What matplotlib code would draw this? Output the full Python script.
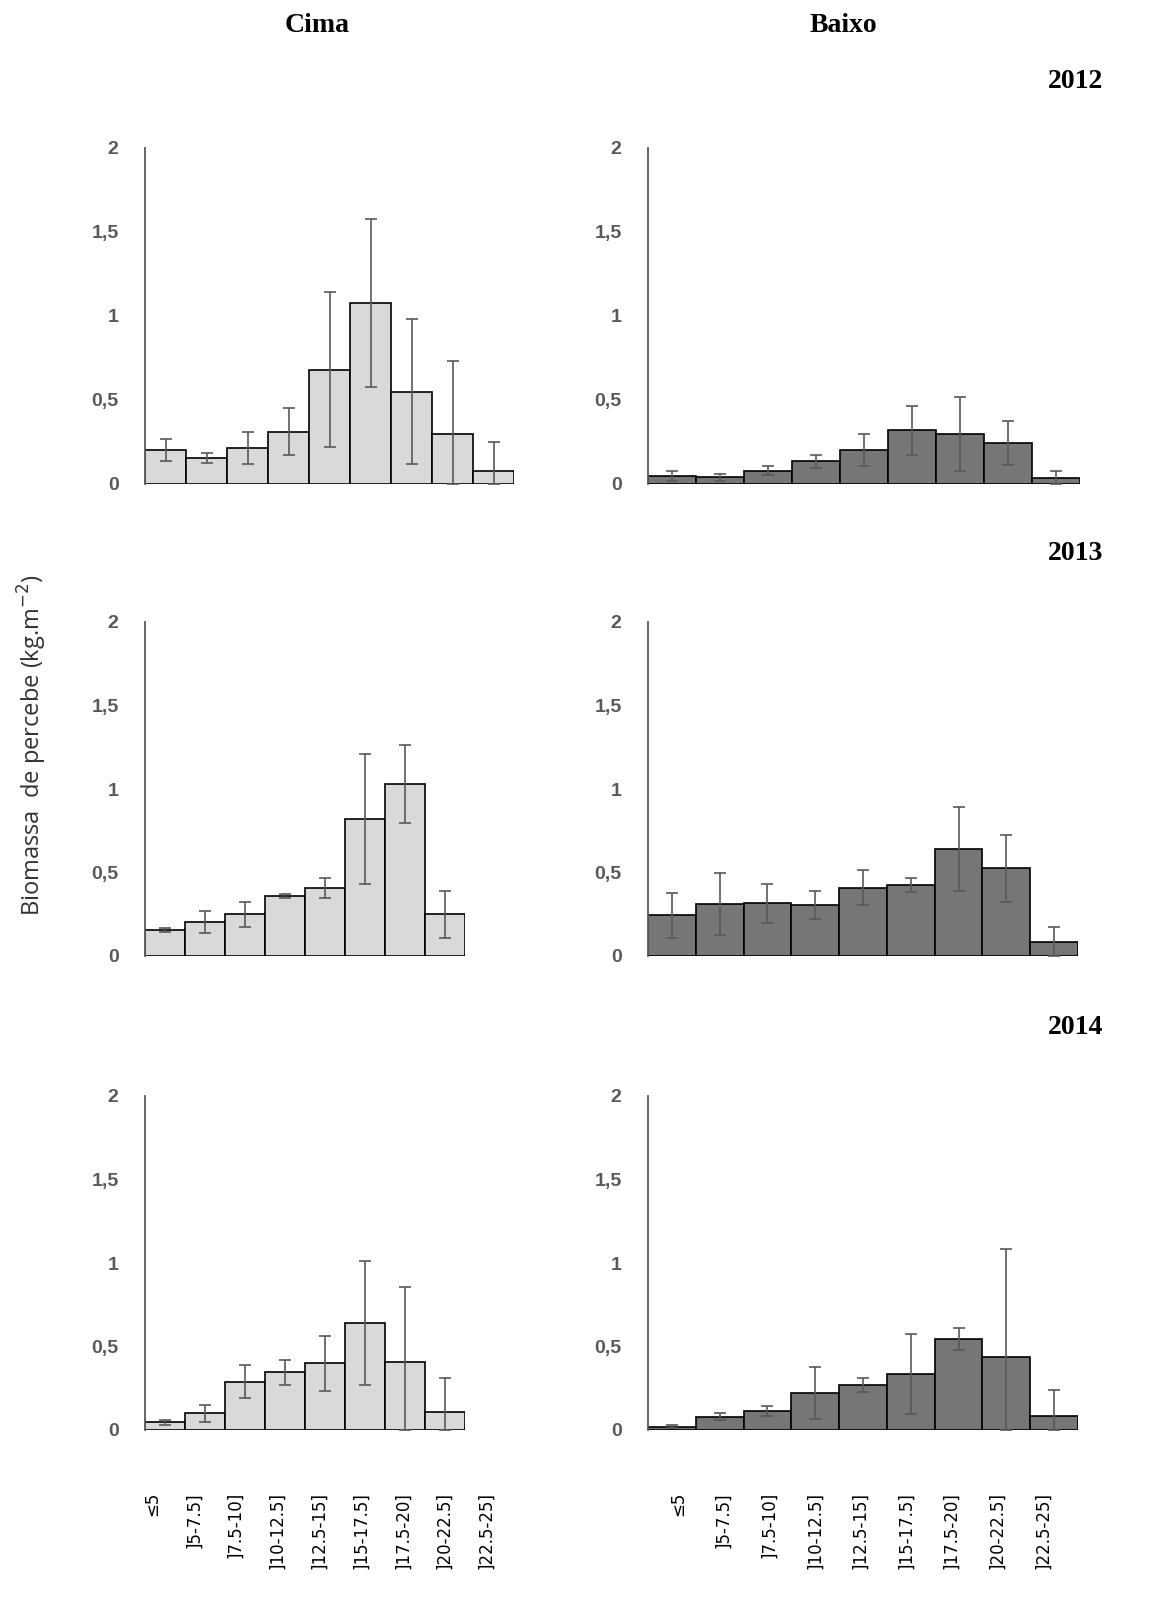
import matplotlib.pyplot as plt
import numpy as np

W, H = 1149, 1614
fig = plt.figure(figsize=(W / 100, H / 100), dpi=100)

classes = ['≤5', ']5-7.5]', ']7.5-10]', ']10-12.5]', ']12.5-15]',
           ']15-17.5]', ']17.5-20]', ']20-22.5]', ']22.5-25]']

cima_2012 = [0.20, 0.155, 0.215, 0.31, 0.68, 1.08, 0.55, 0.30, 0.08]
cima_2012_err = [0.065, 0.03, 0.095, 0.14, 0.46, 0.50, 0.43, 0.43, 0.17]
cima_2013 = [0.155, 0.205, 0.25, 0.36, 0.41, 0.82, 1.03, 0.25]
cima_2013_err = [0.01, 0.065, 0.075, 0.01, 0.06, 0.39, 0.235, 0.14]
cima_2014 = [0.045, 0.10, 0.29, 0.345, 0.40, 0.64, 0.405, 0.11]
cima_2014_err = [0.015, 0.05, 0.10, 0.075, 0.165, 0.37, 0.45, 0.20]

baixo_2012 = [0.045, 0.04, 0.08, 0.135, 0.20, 0.32, 0.30, 0.245, 0.035]
baixo_2012_err = [0.03, 0.02, 0.025, 0.04, 0.095, 0.145, 0.22, 0.13, 0.045]
baixo_2013 = [0.245, 0.31, 0.315, 0.305, 0.41, 0.425, 0.64, 0.525, 0.085]
baixo_2013_err = [0.135, 0.185, 0.115, 0.085, 0.105, 0.04, 0.25, 0.20, 0.09]
baixo_2014 = [0.02, 0.08, 0.115, 0.22, 0.27, 0.335, 0.545, 0.435, 0.085]
baixo_2014_err = [0.01, 0.02, 0.03, 0.155, 0.04, 0.24, 0.065, 0.65, 0.155]

years = ['2012', '2013', '2014']
CIMA_C = '#d9d9d9'
BAIXO_C = '#767676'
GRAY = '#595959'

# panel pixel boxes
rows_y = [(148, 484), (622, 956), (1096, 1430)]
cima_x = [(145, 514), (145, 465), (145, 465)]
baixo_x = [(648, 1080), (648, 1078), (648, 1078)]

panels = [
    (cima_x, [(cima_2012, cima_2012_err), (cima_2013, cima_2013_err), (cima_2014, cima_2014_err)], CIMA_C),
    (baixo_x, [(baixo_2012, baixo_2012_err), (baixo_2013, baixo_2013_err), (baixo_2014, baixo_2014_err)], BAIXO_C),
]

for xs, data, col in panels:
    for (vals, errs), (x0, x1), (y0, y1) in zip(data, xs, rows_y):
        ax = fig.add_axes([x0 / W, 1 - y1 / H, (x1 - x0) / W, (y1 - y0) / H])
        n = len(vals)
        x = np.arange(n)
        v = np.array(vals)
        e = np.array(errs)
        ax.bar(x, v, width=1.0, color=col, edgecolor='black', linewidth=1.2, zorder=2)
        ax.errorbar(x, v, yerr=[np.minimum(e, v), e], fmt='none', ecolor=GRAY,
                    elinewidth=1.2, capsize=4, capthick=1.2, zorder=3)
        ax.set_xlim(-0.5, n - 0.5)
        ax.set_ylim(0, 2)
        ax.set_yticks([0, 0.5, 1, 1.5, 2])
        ax.set_yticklabels(['0', '0,5', '1', '1,5', '2'], fontsize=14,
                           fontweight='bold', color=GRAY, family='Liberation Sans')
        ax.tick_params(axis='y', length=0, pad=19)
        ax.set_xticks([])
        for s in ['top', 'right', 'bottom']:
            ax.spines[s].set_visible(False)
        ax.spines['left'].set_color(GRAY)
        ax.spines['left'].set_linewidth(1.3)
        ax.patch.set_alpha(0)

# category labels under each column
for start, step in [(152, 41.8), (678, 45.6)]:
    for i, lab in enumerate(classes):
        fig.text((start + i * step) / W, 1 - 1492 / H, lab, rotation=90,
                 ha='center', va='top', fontsize=12, family='DejaVu Sans', color='black')

fig.text(317 / W, 1 - 25 / H, 'Cima', ha='center', va='center', fontsize=20,
         fontweight='bold', family='Liberation Serif')
fig.text(843 / W, 1 - 25 / H, 'Baixo', ha='center', va='center', fontsize=20,
         fontweight='bold', family='Liberation Serif')
for yr, yy in zip(years, [82, 553, 1027]):
    fig.text(1103 / W, 1 - yy / H, yr, ha='right', va='center', fontsize=20,
             fontweight='bold', family='Liberation Serif')

fig.text(32 / W, 1 - 745 / H, 'Biomassa  de percebe (kg.m$^{-2}$)', rotation=90,
         ha='center', va='center', fontsize=17, family='Open Sans', color='#333333')

fig.savefig('out.png', dpi=100, facecolor='white')
